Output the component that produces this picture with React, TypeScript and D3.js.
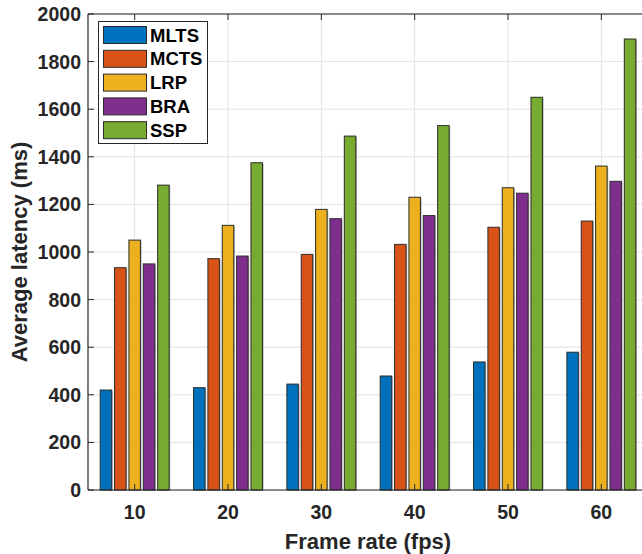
import React from "react";
import * as d3 from "d3";

const categories = ["10", "20", "30", "40", "50", "60"];
const seriesNames = ["MLTS", "MCTS", "LRP", "BRA", "SSP"];
const MLTS = [420, 430, 445, 479, 538, 579];
const MCTS = [934, 972, 990, 1032, 1104, 1130];
const LRP = [1050, 1112, 1179, 1230, 1270, 1361];
const BRA = [950, 983, 1140, 1153, 1247, 1297];
const SSP = [1281, 1375, 1487, 1531, 1650, 1895];
const yTicks = [0, 200, 400, 600, 800, 1000, 1200, 1400, 1600, 1800, 2000];
const colors = ["#0072BD", "#D95319", "#EDB120", "#7E2F8E", "#77AC30"];

const series = [MLTS, MCTS, LRP, BRA, SSP];

export default function App() {
  const W = 642, H = 554;
  const left = 88, right = 648, top = 14, bottom = 490;
  const x = d3.scaleLinear().domain([0.5, categories.length + 0.5]).range([left, right]);
  const y = d3.scaleLinear().domain([0, 2000]).range([bottom, top]);
  const n = series.length;
  const groupWidth = Math.min(0.8, n / (n + 1.5));
  const step = groupWidth / n;
  const barW = (x(1 + step * 0.8) - x(1));
  const axisColor = "#262626";
  const font = "'Liberation Sans', Arial, Helvetica, sans-serif";

  return (
    <div style={{ position: "absolute", left: 0, top: 0 }}>
      <svg width={W} height={H} style={{ display: "block", background: "#fff" }} fontFamily={font}>
        {/* grid */}
        {yTicks.map((t) => (
          <line key={"gy" + t} x1={left} x2={right} y1={y(t)} y2={y(t)} stroke="#e3e3e3" strokeWidth={1} />
        ))}
        {categories.map((c, i) => (
          <line key={"gx" + c} x1={x(i + 1)} x2={x(i + 1)} y1={top} y2={bottom} stroke="#e3e3e3" strokeWidth={1} />
        ))}
        {/* bars */}
        {series.map((vals, s) =>
          vals.map((v, i) => {
            const cx = x(i + 1 + (s - (n - 1) / 2) * step);
            const bx = cx - barW / 2;
            return (
              <g key={s + "-" + i}>
                <rect x={bx + 1.2} y={y(v) + 0.8} width={barW} height={bottom - y(v)} fill="#8c8c8c" opacity={0.6} />
                <rect x={bx} y={y(v)} width={barW} height={bottom - y(v)} fill={colors[s]} stroke="#2b2b2b" strokeWidth={1} />
              </g>
            );
          })
        )}
        {/* axes box */}
        <line x1={left} x2={left} y1={top} y2={bottom} stroke={axisColor} strokeWidth={1.2} />
        <line x1={right} x2={right} y1={top} y2={bottom} stroke={axisColor} strokeWidth={1.2} />
        <line x1={left} x2={right} y1={bottom} y2={bottom} stroke={axisColor} strokeWidth={1.2} />
        <line x1={left} x2={right} y1={top} y2={top} stroke={axisColor} strokeWidth={1.2} />
        {/* y ticks */}
        {yTicks.map((t) => (
          <g key={"yt" + t}>
            <line x1={left} x2={left + 6} y1={y(t)} y2={y(t)} stroke={axisColor} />
            <line x1={right} x2={right - 6} y1={y(t)} y2={y(t)} stroke={axisColor} />
            <text x={left - 7} y={y(t)} dy="0.36em" textAnchor="end" fontSize={19.5} fontWeight="bold" fill={axisColor}>
              {t}
            </text>
          </g>
        ))}
        {/* x ticks */}
        {categories.map((c, i) => (
          <g key={"xt" + c}>
            <line x1={x(i + 1)} x2={x(i + 1)} y1={bottom} y2={bottom - 6} stroke={axisColor} />
            <line x1={x(i + 1)} x2={x(i + 1)} y1={top} y2={top + 6} stroke={axisColor} />
            <text x={x(i + 1)} y={511.5} dy="0.36em" textAnchor="middle" fontSize={19.5} fontWeight="bold" fill={axisColor}>
              {c}
            </text>
          </g>
        ))}
        {/* axis labels */}
        <text x={368} y={541.5} dy="0.36em" textAnchor="middle" fontSize={22} fontWeight="bold" fill={axisColor}>
          Frame rate (fps)
        </text>
        <text transform={`translate(19.5,${(top + bottom) / 2}) rotate(-90)`} dy="0.36em" textAnchor="middle" fontSize={22} fontWeight="bold" fill={axisColor}>
          Average latency (ms)
        </text>
        {/* legend */}
        <rect x={98.5} y={21.5} width={109} height={122} fill="#fff" stroke="#262626" strokeWidth={1} />
        {seriesNames.map((name, s) => {
          const cy = 35 + s * 23.8;
          return (
            <g key={name}>
              <rect x={103.5} y={cy - 8.5} width={43} height={17} fill={colors[s]} stroke="#2b2b2b" strokeWidth={1} />
              <text x={150} y={cy} dy="0.36em" fontSize={18.5} fontWeight="bold" fill="#000">
                {name}
              </text>
            </g>
          );
        })}
      </svg>
    </div>
  );
}
